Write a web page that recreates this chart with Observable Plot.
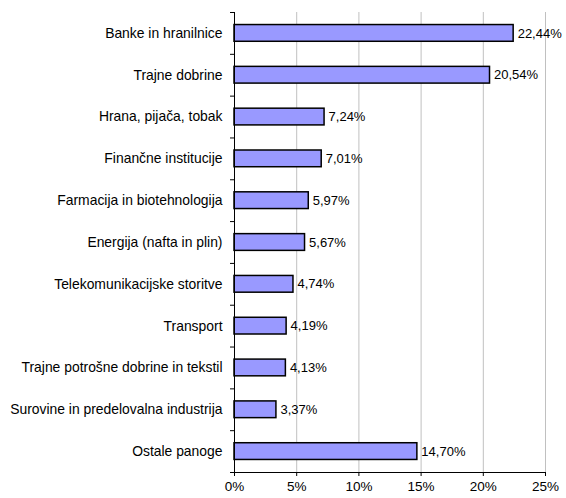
<!DOCTYPE html>
<html>
<head>
<meta charset="utf-8">
<script src="https://cdn.jsdelivr.net/npm/d3@7"></script>
<script src="https://cdn.jsdelivr.net/npm/@observablehq/plot@0.6"></script>
<style>
  html, body { margin: 0; padding: 0; background: #fff; }
  #chart svg { display: block; }
</style>
</head>
<body>
<div id="chart"></div>
<script>
const categories = [
  "Banke in hranilnice",
  "Trajne dobrine",
  "Hrana, pijača, tobak",
  "Finančne institucije",
  "Farmacija in biotehnologija",
  "Energija (nafta in plin)",
  "Telekomunikacijske storitve",
  "Transport",
  "Trajne potrošne dobrine in tekstil",
  "Surovine in predelovalna industrija",
  "Ostale panoge"
];
const values = [22.44, 20.54, 7.24, 7.01, 5.97, 5.67, 4.74, 4.19, 4.13, 3.37, 14.70];
const xTicks = [0, 5, 10, 15, 20, 25];

const data = categories.map((c, i) => ({category: c, value: values[i]}));

const W = 566, H = 498;
const mTop = 12, mBottom = 26, mLeft = 234, mRight = 21;
const step = (H - mTop - mBottom) / categories.length;
const fmt = v => v.toFixed(2).replace(".", ",") + "%";

const chart = Plot.plot({
  width: W,
  height: H,
  marginTop: mTop,
  marginBottom: mBottom,
  marginLeft: mLeft,
  marginRight: mRight,
  style: {fontFamily: "Arial, 'Liberation Sans', sans-serif", fontSize: "13.5px", color: "#000", background: "#fff"},
  x: {domain: [0, 25], ticks: xTicks, label: null},
  y: {domain: categories, paddingInner: 0.6, paddingOuter: 0.3, round: false, label: null},
  marks: [
    Plot.gridX(xTicks.filter(d => d > 0), {stroke: "#c0c0c0", strokeOpacity: 1}),
    Plot.barX(data, {y: "category", x: "value", fill: "#9999FF", stroke: "#000", strokeWidth: 1.5}),
    Plot.text(data, {y: "category", x: "value", text: d => fmt(d.value), textAnchor: "start", dx: 4, fill: "#000", fontSize: 13}),
    Plot.ruleX([0], {stroke: "#000"}),
    Plot.ruleY(categories, {y: d => d, x1: -0.32, x2: 0, dy: step / 2, stroke: "#000"}),
    Plot.ruleY(categories.slice(0, 1), {y: d => d, x1: -0.32, x2: 0, dy: -step / 2, stroke: "#000"}),
    Plot.ruleY(categories.slice(-1), {y: d => d, x1: 0, x2: 25, dy: step / 2, stroke: "#000"}),
    Plot.axisX({ticks: xTicks, tickSize: 4, tickPadding: 5, tickFormat: d => d + "%", label: null, fontSize: 13.5}),
    Plot.axisY({tickSize: 0, tickPadding: 12, label: null, fontSize: 13.9})
  ]
});
document.getElementById("chart").appendChild(chart);
</script>
</body>
</html>
